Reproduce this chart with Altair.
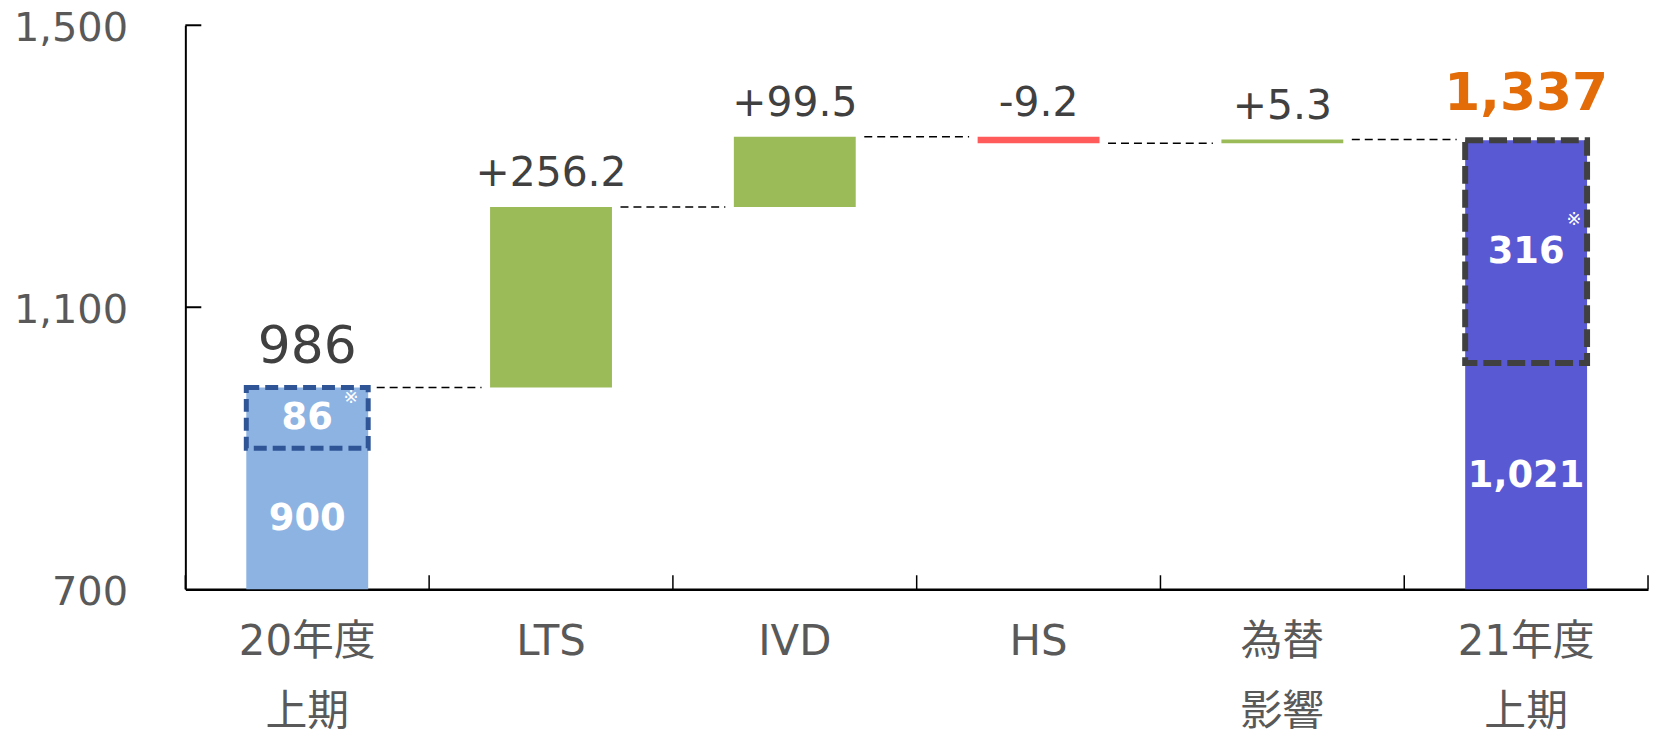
import altair as alt
import pandas as pd

# ---------------- data ----------------
categories = ["20年度\n上期", "LTS", "IVD", "HS", "為替\n影響", "21年度\n上期"]
axis_floor = 700
y_tick_values = [700, 1100, 1500]

start_total = 986
start_total_label = "986"
start_base = 900
start_extra_label = "86"
start_base_label = "900"

deltas = [256.2, 99.5, -9.2, 5.3]
delta_labels = ["+256.2", "+99.5", "-9.2", "+5.3"]

end_total = 1337
end_total_label = "1,337"
end_base = 1021
end_extra_label = "316"
end_base_label = "1,021"

# ---------------- styles ----------------
COL_START = "#8DB3E2"
COL_UP = "#9BBB59"
COL_DOWN = "#FF5B5B"
COL_END = "#5959D3"
COL_ORANGE = "#E36C09"
COL_TEXT = "#404040"
COL_AXIS_LABEL = "#595959"
FONT = "DejaVu Sans, Noto Sans CJK JP"

W, H = 1468, 566

# ---------------- tables ----------------
bars = [dict(cat=categories[0], lo=axis_floor, hi=start_total, color=COL_START)]
conn = []
dlabels = []
level = start_total
for i, d in enumerate(deltas):
    cat = categories[i + 1]
    new = level + d
    bars.append(dict(cat=cat, lo=level, hi=new, color=COL_UP if d >= 0 else COL_DOWN))
    dlabels.append(dict(cat=cat, lo=max(level, new), text=delta_labels[i]))
    conn.append(dict(cat=categories[i], b=cat, lo=level))
    level = new
conn.append(dict(cat=categories[4], b=categories[5], lo=level))
bars.append(dict(cat=categories[5], lo=axis_floor, hi=end_total, color=COL_END))

bars_df = pd.DataFrame(bars)
conn_df = pd.DataFrame(conn)
dlab_df = pd.DataFrame(dlabels)

box1_df = pd.DataFrame([dict(cat=categories[0], lo=start_base, hi=start_total)])
box2_df = pd.DataFrame([dict(cat=categories[5], lo=end_base, hi=end_total)])

inner_df = pd.DataFrame([
    dict(cat=categories[0], lo=(axis_floor + start_base) / 2, text=start_base_label),
    dict(cat=categories[0], lo=(start_base + start_total) / 2, text=start_extra_label),
    dict(cat=categories[5], lo=(axis_floor + end_base) / 2, text=end_base_label),
    dict(cat=categories[5], lo=(end_base + end_total) / 2, text=end_extra_label),
])
mark1_df = pd.DataFrame([dict(cat=categories[0], lo=(start_base + start_total) / 2, text="※")])
mark2_df = pd.DataFrame([dict(cat=categories[5], lo=(end_base + end_total) / 2, text="※")])

top1_df = pd.DataFrame([dict(cat=categories[0], lo=start_total, text=start_total_label)])
top2_df = pd.DataFrame([dict(cat=categories[5], lo=end_total, text=end_total_label)])

ytick_df = pd.DataFrame({"lo": [v for v in y_tick_values if v != axis_floor]})
xtick_df = pd.DataFrame({"cat": categories})
xtick_end_df = pd.DataFrame({"cat": [categories[-1]]})

# ---------------- scales / axes ----------------
xs = alt.Scale(domain=categories, paddingInner=0, paddingOuter=0)
ys = alt.Scale(domain=[axis_floor, 1500], zero=False, nice=False)

x_axis = alt.Axis(
    title=None, labelAngle=0, labelExpr="split(datum.label, '\\n')",
    labelFont=FONT, labelFontSize=42, labelColor=COL_AXIS_LABEL,
    labelLineHeight=70, labelPadding=33, ticks=False, tickSize=0,
    domainColor="black", domainWidth=2.5, grid=False,
)
y_axis = alt.Axis(
    title=None, values=y_tick_values, labelExpr="format(datum.value, ',')",
    labelFont=FONT, labelFontSize=40, labelColor=COL_AXIS_LABEL, labelPadding=58,
    labelBaseline="alphabetic", labelOffset=15,
    ticks=False, tickSize=0, domainColor="black", domainWidth=2, grid=False,
)


def X(field="cat", **kw):
    return alt.X(f"{field}:N", scale=xs, axis=x_axis, **kw)


def Y(field="lo"):
    return alt.Y(f"{field}:Q", scale=ys, axis=y_axis)


BAND = {"band": 0.5}

bar_layer = alt.Chart(bars_df).mark_bar(width=BAND).encode(
    x=X(), y=Y(), y2="hi:Q",
    color=alt.Color("color:N", scale=None),
)

conn_layer = alt.Chart(conn_df).mark_rule(
    color="black", strokeWidth=1.5, strokeDash=[8, 5]
).encode(
    x=X("cat", bandPosition=0.785),
    x2=alt.X2("b", bandPosition=0.215),
    y=Y(),
)

box1 = alt.Chart(box1_df).mark_bar(
    width=BAND, fillOpacity=0, stroke="#2F5597", strokeWidth=5, strokeDash=[13, 6]
).encode(x=X(), y=Y(), y2="hi:Q")

box2 = alt.Chart(box2_df).mark_bar(
    width=BAND, fillOpacity=0, stroke="#404040", strokeWidth=6, strokeDash=[18, 6]
).encode(x=X(), y=Y(), y2="hi:Q")

dlab_layer = alt.Chart(dlab_df).mark_text(
    font=FONT, fontSize=41, color=COL_TEXT, baseline="alphabetic", dy=-21
).encode(x=X(), y=Y(), text="text:N")

top1 = alt.Chart(top1_df).mark_text(
    font=FONT, fontSize=52, color=COL_TEXT, baseline="alphabetic", dy=-25
).encode(x=X(), y=Y(), text="text:N")

top2 = alt.Chart(top2_df).mark_text(
    font=FONT, fontSize=52, fontWeight="bold", color=COL_ORANGE, baseline="alphabetic", dy=-30
).encode(x=X(), y=Y(), text="text:N")

inner = alt.Chart(inner_df).mark_text(
    font=FONT, fontSize=37, fontWeight="bold", color="white", baseline="middle"
).encode(x=X(), y=Y(), text="text:N")

mark1 = alt.Chart(mark1_df).mark_text(
    font=FONT, fontSize=18, color="white", baseline="middle", dx=44, dy=-20
).encode(x=X(), y=Y(), text="text:N")

mark2 = alt.Chart(mark2_df).mark_text(
    font=FONT, fontSize=18, color="white", baseline="middle", dx=48, dy=-32
).encode(x=X(), y=Y(), text="text:N")

ytick_layer = alt.Chart(ytick_df).mark_rule(color="black", strokeWidth=2).encode(
    y=Y(), x=alt.value(0), x2=alt.value(16)
)
xtick_layer = alt.Chart(xtick_df).mark_rule(color="black", strokeWidth=1.5).encode(
    x=X(bandPosition=0), y=alt.value(H), y2=alt.value(H - 14)
)
xtick_end = alt.Chart(xtick_end_df).mark_rule(color="black", strokeWidth=1.5).encode(
    x=X(bandPosition=1), y=alt.value(H), y2=alt.value(H - 14)
)

chart = alt.layer(
    bar_layer, conn_layer, box1, box2, dlab_layer, top1, top2, inner, mark1, mark2,
    ytick_layer, xtick_layer, xtick_end,
).properties(
    width=W, height=H,
    padding={"left": 178, "top": 16, "right": 4, "bottom": 146},
    autosize=alt.AutoSizeParams(type="none"),
).configure_view(stroke=None)

chart.save("out.html", embed_options={"renderer": "svg", "actions": False})
